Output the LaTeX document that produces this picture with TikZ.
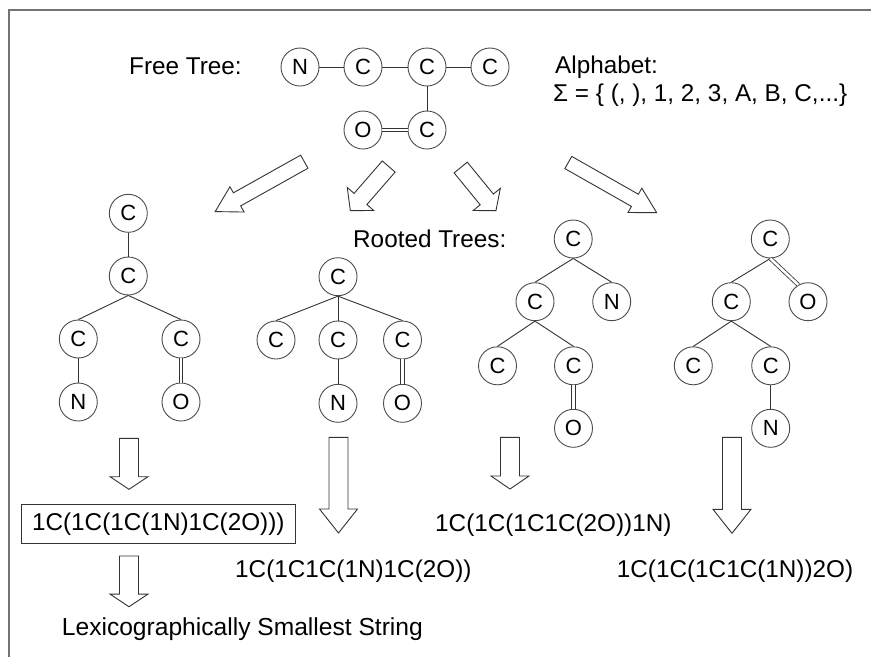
\documentclass[tikz,border=0pt]{standalone}
\usepackage{fontspec}
\setmainfont{Liberation Sans}
\tikzset{
  atom/.style={circle, draw=black!70, line width=0.9pt, minimum size=38pt, inner sep=0pt,
    font=\fontsize{22}{22}\selectfont, fill=white},
  bond/.style={draw=black!80, line width=0.9pt},
  dbond/.style={draw=black!80, double=white, double distance=2.6pt, line width=0.8pt},
  lbl/.style={font=\fontsize{24.3}{28}\selectfont, anchor=base west, inner sep=0pt},
  blockarrow/.style={draw=black!80, line width=0.9pt, fill=white, line join=miter},
  frameline/.style={draw=black!55, line width=1.5pt},
}
% start x, start y, end x, end y (pixels, y down), shaft half width, head half width, head length
\newcommand\blkarrow[7]{%
  \pgfmathsetmacro\baang{atan2((#2)-(#4),(#3)-(#1))}%
  \pgfmathsetmacro\balen{veclen((#3)-(#1),(#4)-(#2))}%
  \begin{scope}[shift={(#1,-#2)},rotate=\baang]
    \draw[blockarrow] (0,#5) -- (\balen-#7,#5) -- (\balen-#7,#6) -- (\balen,0)
      -- (\balen-#7,-#6) -- (\balen-#7,-#5) -- (0,-#5) -- cycle;
  \end{scope}}
\begin{document}
\begin{tikzpicture}[x=1pt,y=1pt]
\useasboundingbox (0,0) rectangle (871,-657);
\fill[white] (0,0) rectangle (871,-657);
% frame
\draw[frameline] (9,-657) -- (9,-10) -- (871,-10);

% labels
\node[lbl] (freetree) at (129,-74) {Free Tree:};
\node[lbl] (alpha) at (555,-73.3) {Alphabet:};
\node[lbl] (sigma) at (553,-101.7) {Σ = \{ (, ), 1, 2, 3, A, B, C,...\}};
\node[lbl] (rooted) at (353,-247.3) {Rooted Trees:};

% free tree
\node[atom] (fN) at (300,-67) {N};
\node[atom] (fC1) at (363,-67) {C};
\node[atom] (fC2) at (427,-67) {C};
\node[atom] (fC3) at (490,-67) {C};
\node[atom] (fO) at (363,-130) {O};
\node[atom] (fC4) at (427,-130) {C};
\draw[bond] (fN) -- (fC1);
\draw[bond] (fC1) -- (fC2);
\draw[bond] (fC2) -- (fC3);
\draw[bond] (fC2) -- (fC4);
\draw[dbond] (fO) -- (fC4);

% block arrows from free tree
\blkarrow{304.3}{161.7}{215}{211.7}{7.5}{14.5}{25}
\blkarrow{388.7}{166.5}{350.3}{210.7}{8.5}{17.5}{15.5}
\blkarrow{460.7}{167.5}{496}{210.7}{8.5}{17.5}{14.5}
\blkarrow{568.3}{162.5}{656.7}{212.7}{7}{14}{25}

% tree 1
\node[atom] (aC1) at (128.3,-213.3) {C};
\node[atom] (aC2) at (128.3,-276) {C};
\node[atom] (aC3) at (78.3,-339) {C};
\node[atom] (aC4) at (181,-339) {C};
\node[atom] (aN) at (78.3,-402) {N};
\node[atom] (aO) at (181,-402) {O};
\draw[bond] (aC1.south) -- (aC2.north);
\draw[bond] (aC2.south) -- (aC3.north);
\draw[bond] (aC2.south) -- (aC4.north);
\draw[bond] (aC3.south) -- (aN.north);
\draw[dbond] (aC4.south) -- (aO.north);

% tree 2
\node[atom] (bC1) at (338,-276.7) {C};
\node[atom] (bC2) at (276,-340) {C};
\node[atom] (bC3) at (338,-340) {C};
\node[atom] (bC4) at (402.5,-340) {C};
\node[atom] (bN) at (338,-403.3) {N};
\node[atom] (bO) at (402.5,-403.3) {O};
\draw[bond] (bC1.south) -- (bC2.north);
\draw[bond] (bC1.south) -- (bC3.north);
\draw[bond] (bC1.south) -- (bC4.north);
\draw[bond] (bC3.south) -- (bN.north);
\draw[dbond] (bC4.south) -- (bO.north);

% tree 3
\node[atom] (cC1) at (573.2,-239) {C};
\node[atom] (cC2) at (535,-301.7) {C};
\node[atom] (cN) at (611.7,-301.7) {N};
\node[atom] (cC3) at (497.5,-365.8) {C};
\node[atom] (cC4) at (573.5,-365.8) {C};
\node[atom] (cO) at (573.5,-428.3) {O};
\draw[bond] (cC1.south) -- (cC2.north);
\draw[bond] (cC1.south) -- (cN.north);
\draw[bond] (cC2.south) -- (cC3.north);
\draw[bond] (cC2.south) -- (cC4.north);
\draw[dbond] (cC4.south) -- (cO.north);

% tree 4
\node[atom] (dC1) at (770.3,-239) {C};
\node[atom] (dC2) at (731.3,-301.7) {C};
\node[atom] (dO) at (808,-301.7) {O};
\node[atom] (dC3) at (693.3,-365.8) {C};
\node[atom] (dC4) at (770.7,-365.8) {C};
\node[atom] (dN) at (770.7,-428.3) {N};
\draw[bond] (dC1.south) -- (dC2.north);
\draw[dbond] (dC1.south) -- (dO.120);
\draw[bond] (dC2.south) -- (dC3.north);
\draw[bond] (dC2.south) -- (dC4.north);
\draw[bond] (dC4.south) -- (dN.north);

% down arrows
\blkarrow{129}{438.3}{129}{489.3}{9.5}{19}{12.6}
\blkarrow{129}{556}{129}{606.7}{9.5}{19}{12.6}
\blkarrow{338.5}{437.3}{338.5}{533}{9.5}{19}{24}
\blkarrow{510}{437.3}{510}{489}{9.5}{19}{13}
\blkarrow{732}{437.3}{732}{533.3}{9.5}{19}{24}

% strings
\node[draw=black!80, line width=0.9pt, minimum width=273.3pt, minimum height=39pt, inner sep=0pt,
  font=\fontsize{24.3}{28}\selectfont] (best) at (158.3,-523.8) {1C(1C(1C(1N)1C(2O)))};
\node[lbl] (s2) at (235,-577) {1C(1C1C(1N)1C(2O))};
\node[lbl] (s3) at (435,-531.5) {1C(1C(1C1C(2O))1N)};
\node[lbl] (s4) at (616.7,-577) {1C(1C(1C1C(1N))2O)};
\node[lbl, font=\fontsize{24.6}{28}\selectfont] (lex) at (61.7,-635) {Lexicographically Smallest String};
\end{tikzpicture}
\end{document}
